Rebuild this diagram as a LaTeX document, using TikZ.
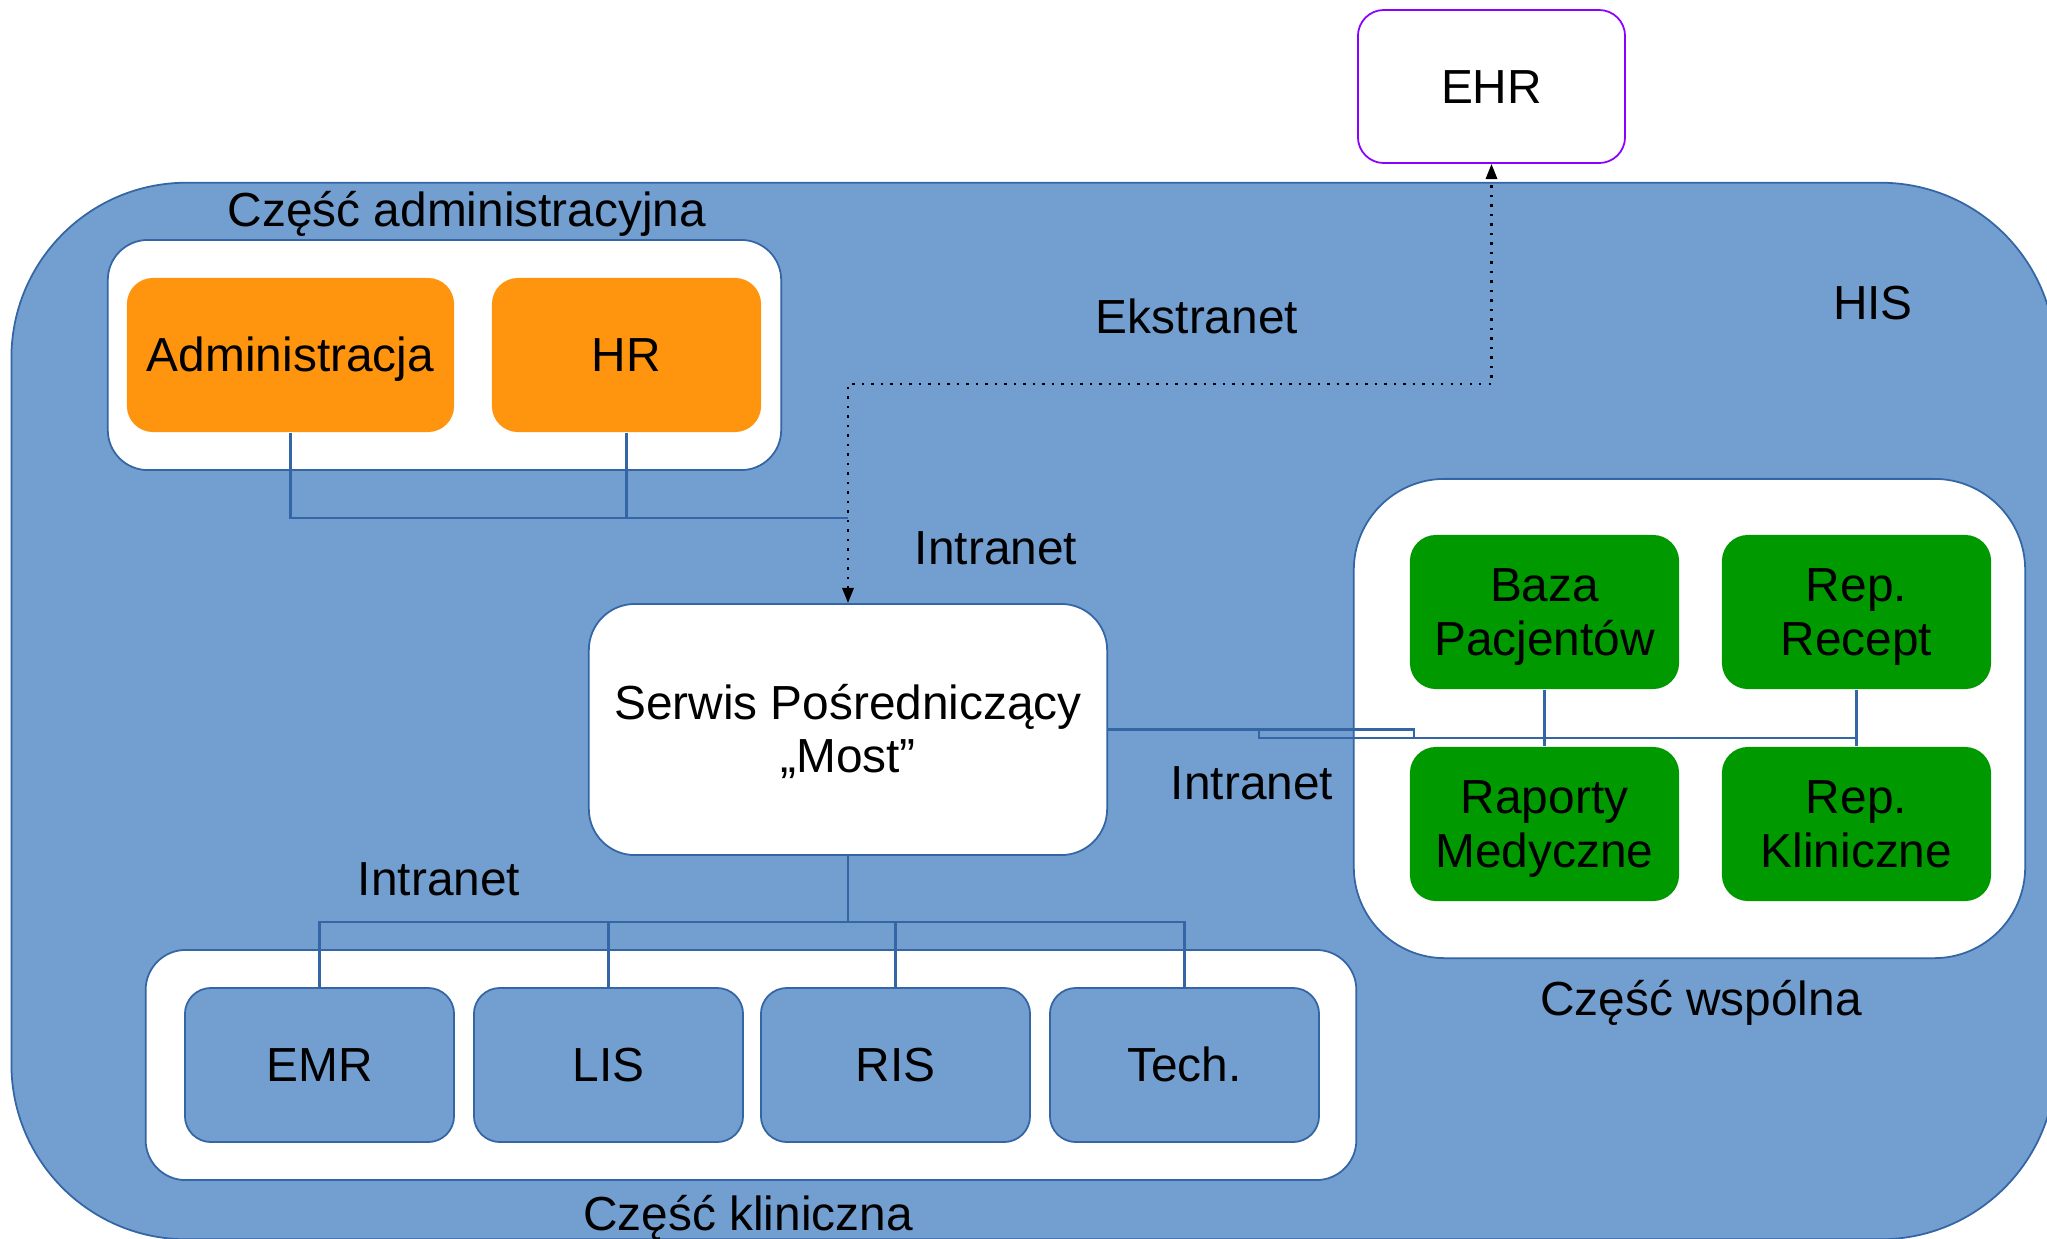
\documentclass[tikz,border=0pt]{standalone}
\usepackage{fontspec}
\setmainfont{Liberation Sans}
\usetikzlibrary{arrows.meta}

\definecolor{hisblue}{HTML}{729FCF}
\definecolor{lineblue}{HTML}{3465A4}
\definecolor{admorange}{HTML}{FF950E}
\definecolor{sharedgreen}{HTML}{009900}
\definecolor{ehrviolet}{HTML}{8B00FF}

% strut with the ascent and descent of the font
\newcommand{\lnstrut}{\rule[-0.212em]{0pt}{1.117em}}

\begin{document}
\begin{tikzpicture}[x=0.01cm,y=-0.01cm,font=\fontsize{13.6pt}{15.3pt}\selectfont]
		\tikzstyle{every node}=[execute at begin node=\lnstrut,execute at end node=\lnstrut]
		\tikzstyle{group}=[draw=lineblue,fill=white,line width=0.5pt,inner sep=0pt]
		\tikzstyle{box}=[rounded corners=0.26cm,align=center,inner sep=0pt,minimum width=2.69cm,minimum height=1.54cm]
		\tikzstyle{adm}=[box,fill=admorange]
		\tikzstyle{shared}=[box,fill=sharedgreen]
		\tikzstyle{clin}=[box,fill=hisblue,draw=lineblue,line width=0.5pt]
		\tikzstyle{edge}=[draw=lineblue,line width=0.6pt]
		\tikzstyle{ext}=[draw=black,dotted,line width=0.7pt,{Triangle[length=4.3pt,width=3.2pt]}-{Triangle[length=4.3pt,width=3.2pt]}]

		\useasboundingbox (0,0) rectangle (2047,1238);

		\node [fill=hisblue,draw=lineblue,line width=0.5pt,rounded corners=1.75cm,minimum width=20.43cm,minimum height=10.56cm] (his) at (1033.5,711) {};
		\node (hislabel) at (1873,303) {HIS};
		\node [box,draw=ehrviolet,fill=white,line width=0.5pt,minimum width=2.67cm,minimum height=1.53cm] (ehr) at (1491.5,86.5) {EHR};

		% administrative part
		\node [group,rounded corners=0.4cm,minimum width=6.73cm,minimum height=2.30cm] (admgroup) at (444.5,355) {};
		\node (admlabel) at (467,210) {Część administracyjna};
		\node [adm,minimum width=3.27cm] (admin) at (290.5,355) {Administracja};
		\node [adm] (hr) at (626.5,355) {HR};

		% bridge
		\node [group,rounded corners=0.46cm,minimum width=5.18cm,minimum height=2.51cm,align=center] (most) at (848,729.5) {Serwis Pośredniczący\lnstrut\\\lnstrut„Most”};

		% shared part
		\node [group,rounded corners=0.91cm,minimum width=6.71cm,minimum height=4.79cm] (sharedgroup) at (1689.5,718.5) {};
		\node (sharedlabel) at (1701,999) {Część wspólna};
		\node [shared] (baza) at (1544.5,612) {Baza\lnstrut\\\lnstrut Pacjentów};
		\node [shared] (recept) at (1856.5,612) {Rep.\lnstrut\\\lnstrut Recept};
		\node [shared] (raporty) at (1544.5,824) {Raporty\lnstrut\\\lnstrut Medyczne};
		\node [shared] (klin) at (1856.5,824) {Rep.\lnstrut\\\lnstrut Kliniczne};

		% clinical part
		\node [group,rounded corners=0.4cm,minimum width=12.10cm,minimum height=2.30cm] (clingroup) at (751,1065) {};
		\node (clinlabel) at (748,1214) {Część kliniczna};
		\node [clin] (emr) at (319.5,1065) {EMR};
		\node [clin] (lis) at (608.5,1065) {LIS};
		\node [clin] (ris) at (895.5,1065) {RIS};
		\node [clin] (tech) at (1184.5,1065) {Tech.};

		\node (ekstranet) at (1197,317) {Ekstranet};
		\node (intranet1) at (996,548) {Intranet};
		\node (intranet2) at (1252,783) {Intranet};
		\node (intranet3) at (439,879) {Intranet};

		\coordinate (admbus) at (848,518);
		\coordinate (extbend) at (1491.5,384);
		\coordinate (sharedbus) at (1855,738);
		\coordinate (jogleft) at (1259,729.5);
		\coordinate (jogright) at (1414,729.5);
		\coordinate (clinbus) at (848,922);

		\path[edge] (admin.south) |- (admbus);
		\path[edge] (hr.south) -- (hr.south |- admbus);
		\path[ext] (most.north) |- (extbend) -- (ehr.south);

		\path[edge] (most.east) -- (jogright) -- (jogright |- sharedbus);
		\path[edge] (jogleft) |- (sharedbus);
		\path[edge] (baza) -- (raporty);
		\path[edge] (recept) -- (klin);

		\path[edge] (most.south) -- (clinbus);
		\path[edge] (emr.north) |- (clinbus) -| (tech.north);
		\path[edge] (lis.north) -- (lis.north |- clinbus);
		\path[edge] (ris.north) -- (ris.north |- clinbus);

	\end{tikzpicture}
\end{document}
